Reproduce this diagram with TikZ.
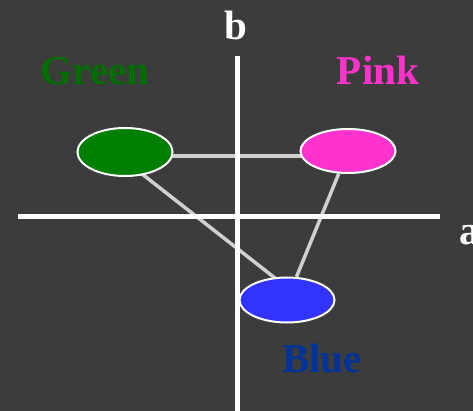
\documentclass[tikz,border=0pt]{standalone}
\usepackage{fontspec}
\setmainfont{Liberation Serif}
\usepackage{xcolor}
\usetikzlibrary{shapes.geometric, positioning, backgrounds}
\definecolor{bgdark}{HTML}{3C3C3C}
\definecolor{linegray}{HTML}{D0D0D0}
\definecolor{blobgreen}{HTML}{007F00}
\definecolor{blobpink}{HTML}{FF33CC}
\definecolor{blobblue}{HTML}{3333FF}
\definecolor{labgreen}{HTML}{006E00}
\definecolor{labblue}{HTML}{003399}
\tikzset{
    blob/.style={ellipse, draw=white, line width=2pt, minimum width=95pt, minimum height=48pt, inner sep=0pt},
    label/.style={font=\fontsize{41}{41}\selectfont\bfseries, inner sep=0pt},
    link/.style={linegray, line width=3.5pt},
    axis/.style={white, line width=5pt}
}

\begin{document}
\begin{tikzpicture}[x=1pt, y=-1pt]
    \begin{scope}[on background layer]
        \fill[bgdark] (0,0) rectangle (473,411);
    \end{scope}
    \useasboundingbox (0,0) rectangle (473,411);

    % the three colours
    \node (green) [blob, fill=blobgreen] at (125,152) {};
    \node (pink) [blob, fill=blobpink, minimum height=44pt] at (348,151) {};
    \node (blue) [blob, fill=blobblue, minimum height=45pt] at (287,300) {};

    \node (greenlab) [label, text=labgreen, anchor=base] at (95,85) {Green};
    \node (pinklab) [label, text=blobpink, anchor=base] at (378,85) {Pink};
    \node (bluelab) [label, text=labblue, anchor=base] at (322,372) {Blue};

    \begin{scope}[on background layer]
        \draw [link] ([yshift=-4pt]green.center) -- ([yshift=-5pt]pink.center);
        \draw [link] ([xshift=-11pt]green.center) -- ([xshift=16pt]blue.center);
        \draw [link] (pink) -- (blue);
    \end{scope}

    % axes
    \coordinate (btop) at (237,56);
    \coordinate (bbot) at (237,411);
    \coordinate (aleft) at (18,217);
    \coordinate (aright) at (440,217);
    \draw [axis] (btop) -- (bbot);
    \draw [axis] (aleft) -- (aright);
    \node (blab) [label, text=white, anchor=base] at (236,40) {b};
    \node (alab) [label, text=white, anchor=base west] at (459,245) {a};
\end{tikzpicture}
\end{document}
